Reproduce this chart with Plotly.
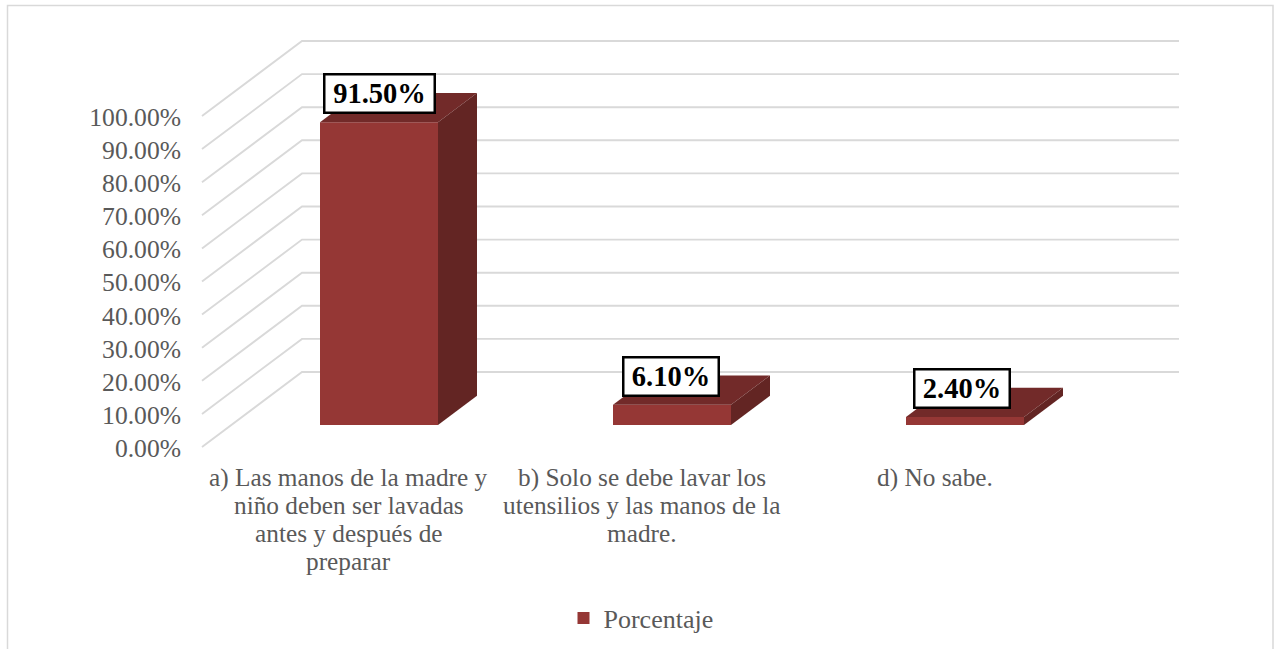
import plotly.graph_objects as go

# Chart data
categories = [
    'a) Las manos de la madre y<br>niño deben ser lavadas<br>antes y después de<br>preparar',
    'b) Solo se debe lavar los<br>utensilios y las manos de la<br>madre.',
    'd) No sabe.',
]
values = [91.5, 6.1, 2.4]
value_labels = ['91.50%', '6.10%', '2.40%']
y_ticks = [0, 10, 20, 30, 40, 50, 60, 70, 80, 90, 100]
y_tick_labels = ['0.00%', '10.00%', '20.00%', '30.00%', '40.00%', '50.00%',
                 '60.00%', '70.00%', '80.00%', '90.00%', '100.00%']
series_name = 'Porcentaje'

# Styling
FONT = 'Liberation Serif'
TEXT_COLOR = '#595959'
GRID_COLOR = '#d9d9d9'
FRONT_COLOR = '#953735'
TOP_COLOR = '#722a29'
SIDE_COLOR = '#632523'
WIDTH, HEIGHT = 1277, 649
LEFT, RIGHT, TOP, BOTTOM = 192, 1189, 31, 457

# Axis scale: pixels per category and per percent, origin of the front plane
PX_CAT = 293.0
PX_PCT = 3.31
X0_PX = 349.7
Y0_PX = 447.0

# Oblique projection of the floor depth, in axis units
DEPTH_X = 100 / PX_CAT
DEPTH_Y = 75 / PX_PCT
BAR_WIDTH = 118 / PX_CAT
BAR_D0 = 0.293
BAR_DD = 0.39

x_range = [(LEFT - X0_PX) / PX_CAT, (RIGHT - X0_PX) / PX_CAT]
y_range = [(Y0_PX - BOTTOM) / PX_PCT, (Y0_PX - TOP) / PX_PCT]
x_front = (202 - X0_PX) / PX_CAT
x_back_end = (1179 - X0_PX) / PX_CAT

fig = go.Figure()

# Front faces of the columns
bar_x = [i + BAR_D0 * DEPTH_X for i in range(len(values))]
bar_base = BAR_D0 * DEPTH_Y
fig.add_trace(go.Bar(
    x=bar_x,
    y=values,
    base=bar_base,
    width=BAR_WIDTH,
    name=series_name,
    marker=dict(color=FRONT_COLOR, line=dict(width=0)),
    showlegend=True,
    hoverinfo='skip',
))

# Top and side faces
dx = BAR_DD * DEPTH_X
dy = BAR_DD * DEPTH_Y
for xc, v in zip(bar_x, values):
    x_l, x_r = xc - BAR_WIDTH / 2, xc + BAR_WIDTH / 2
    y_t = bar_base + v
    fig.add_trace(go.Scatter(
        x=[x_l, x_r, x_r + dx, x_l + dx, x_l],
        y=[y_t, y_t, y_t + dy, y_t + dy, y_t],
        mode='none', fill='toself', fillcolor=TOP_COLOR,
        showlegend=False, hoverinfo='skip',
    ))
    fig.add_trace(go.Scatter(
        x=[x_r, x_r + dx, x_r + dx, x_r, x_r],
        y=[bar_base, bar_base + dy, y_t + dy, y_t, bar_base],
        mode='none', fill='toself', fillcolor=SIDE_COLOR,
        showlegend=False, hoverinfo='skip',
    ))

# Gridlines: side wall diagonal then back wall
shapes = []
for t in y_ticks:
    x_b = x_front + DEPTH_X
    y_b = t + DEPTH_Y
    shapes.append(dict(
        type='path', xref='x', yref='y', layer='below',
        path=f'M{x_front},{t} L{x_b},{y_b} L{x_back_end},{y_b}',
        line=dict(color=GRID_COLOR, width=1.9),
    ))

# Outer chart border, open past the bottom of the page
plot_w = RIGHT - LEFT
plot_h = BOTTOM - TOP
shapes.append(dict(
    type='rect', xref='paper', yref='paper', layer='below',
    x0=(7.5 - LEFT) / plot_w, x1=(1273 - LEFT) / plot_w,
    y0=(BOTTOM - 670) / plot_h, y1=(BOTTOM - 5.5) / plot_h,
    line=dict(color=GRID_COLOR, width=1.5),
))

annotations = []

# Category labels, one annotation per line to hold the line pitch
LINE_PITCH = 27.9
FIRST_LINE = 30
for i, cat in enumerate(categories):
    for j, line in enumerate(cat.split('<br>')):
        annotations.append(dict(
            x=i, y=0, xref='x', yref='y', text=line, showarrow=False,
            xanchor='center', yanchor='middle', xshift=-1,
            yshift=-(FIRST_LINE + j * LINE_PITCH),
            font=dict(family=FONT, size=25.3, color=TEXT_COLOR),
        ))

# Boxed value labels
label_widths = [108, 93, 93]
label_xshift = [0.5, -1.5, -3]
for xc, v, txt, w, xs in zip(bar_x, values, value_labels, label_widths, label_xshift):
    annotations.append(dict(
        x=xc, y=bar_base + v, xref='x', yref='y', text=f'<b>{txt}</b>',
        showarrow=False, xanchor='center', yanchor='middle',
        xshift=xs, yshift=28.5, width=w, height=36, align='center',
        bgcolor='white', bordercolor='black', borderwidth=2.5, borderpad=0,
        font=dict(family=FONT, size=28.5, color='black'),
    ))

fig.update_layout(
    width=WIDTH,
    height=HEIGHT,
    margin=dict(l=LEFT, r=WIDTH - RIGHT, t=TOP, b=HEIGHT - BOTTOM, autoexpand=False),
    plot_bgcolor='white',
    paper_bgcolor='white',
    font=dict(family=FONT, size=25, color=TEXT_COLOR),
    shapes=shapes,
    annotations=annotations,
    xaxis=dict(range=x_range, showgrid=False, zeroline=False, showline=False,
               showticklabels=False, ticks=''),
    yaxis=dict(range=y_range, tickmode='array', tickvals=y_ticks, ticktext=y_tick_labels,
               showgrid=False, zeroline=False, showline=False, ticks='',
               ticklabelstandoff=10, ticklabelshift=1,
               tickfont=dict(family=FONT, size=25.6, color=TEXT_COLOR)),
    legend=dict(x=(641 - LEFT) / plot_w, y=(BOTTOM - 618) / plot_h, xanchor='center', yanchor='middle',
                font=dict(family=FONT, size=26, color=TEXT_COLOR), bgcolor='rgba(0,0,0,0)'),
)

fig.write_html('out.html', config=dict(displayModeBar=False),
               post_script="document.body.style.margin='0';")
